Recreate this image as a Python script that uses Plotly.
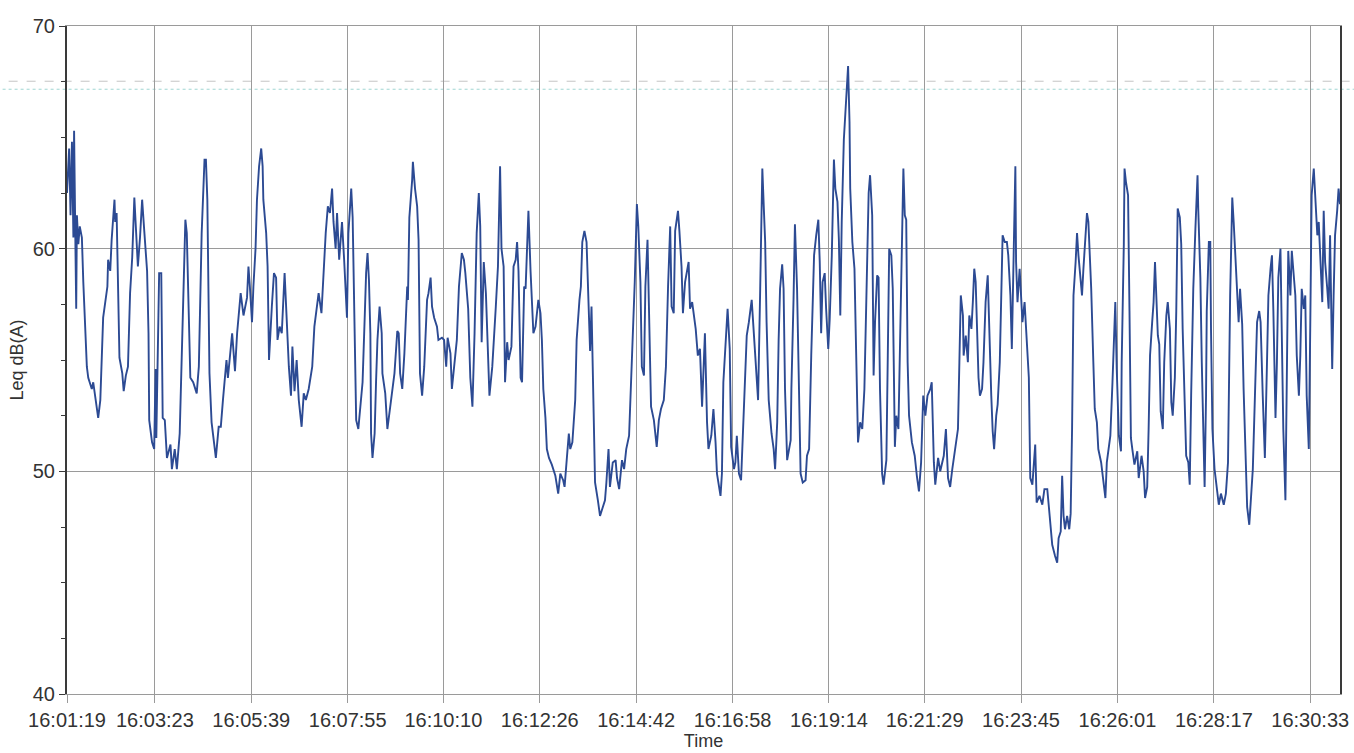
import pandas as pd
import plotly.graph_objects as go

# ---------------- data ----------------
start_time = "16:01:19"
end_time = "16:31:15"
tick_labels = ["16:01:19", "16:03:23", "16:05:39", "16:07:55", "16:10:10", "16:12:26",
               "16:14:42", "16:16:58", "16:19:14", "16:21:29", "16:23:45", "16:26:01",
               "16:28:17", "16:30:33"]

# seconds elapsed since 16:01:19
t_sec = [0, 3, 5, 7, 9, 10, 12, 13, 14, 16, 18, 21, 23, 28, 30, 35, 37, 40, 44, 47, 49, 51, 57, 58,
         61, 63, 67, 68, 70, 73, 74, 78, 80, 83, 86, 89, 92, 95, 98, 100, 103, 106, 109, 113, 115,
         116, 120, 123, 125, 126, 129, 130, 133, 134, 135, 138, 141, 146, 148, 152, 155, 159, 161,
         164, 167, 169, 171, 174, 178, 183, 186, 188, 190, 194, 196, 198, 199, 201, 204, 206, 210,
         214, 217, 220, 225, 227, 233, 237, 240, 245, 249, 254, 256, 258, 261, 263, 266, 268, 271,
         274, 276, 277, 281, 283, 285,
         289, 292, 295, 297, 300, 303, 307, 310, 313, 316, 318, 321, 324, 327, 331, 334, 337, 341,
         346, 349, 353, 355, 359, 362, 365, 368, 371, 374, 376, 379, 381, 384, 388, 391, 395, 397,
         401, 403, 406, 408, 411, 414, 417, 420, 422, 424, 426, 428, 429, 431, 434, 436, 438, 441,
         444, 445, 449, 452, 455, 458, 462, 466, 468, 470, 473, 476, 480, 481, 483, 487, 488, 491,
         494, 496, 498, 501, 504, 508, 510, 513, 515, 518, 522, 524, 529, 532, 535, 537, 541, 543,
         546, 550, 553, 557, 560, 562, 566, 569, 572, 575, 578, 581, 583, 585,
         588, 591, 596, 600, 605, 608, 611, 613, 616, 618, 621, 623, 627, 630, 633, 635, 637, 640,
         642, 645, 647, 649, 651, 654, 656, 658, 661, 665, 668, 670, 672, 675, 677, 680, 684, 689,
         693, 696, 700, 702, 705, 708, 710, 713, 717, 719, 723, 725, 727, 730, 733, 736, 738, 740,
         743, 745, 749, 752, 755, 759, 761, 764, 766, 770, 774, 776, 779, 783, 786, 789, 793, 795,
         797, 801, 804, 806, 809, 811, 814, 816, 819, 821, 824, 828, 832, 835, 838, 842, 845, 848,
         851, 853, 856, 858, 862, 864, 867, 869, 872, 877, 879, 882, 887, 890, 893, 896, 898, 900,
         903, 905, 909, 912, 915, 917, 922, 924, 926, 929, 932, 935, 937, 941, 943, 945, 948, 951,
         953, 956, 959, 962, 966, 968, 971, 973, 975, 978, 981, 983, 985, 987, 990, 994, 997, 999,
         1002, 1004, 1006, 1009, 1011, 1013, 1016, 1021, 1022, 1025, 1027, 1030, 1032, 1035, 1038,
         1042, 1044, 1047, 1050, 1054, 1057, 1060, 1062, 1064, 1066, 1069, 1071, 1074, 1076, 1079,
         1082, 1084, 1087, 1089, 1091, 1093, 1096, 1099, 1102, 1104, 1105, 1108, 1111, 1113, 1116,
         1119, 1122, 1125, 1129, 1131, 1133, 1136, 1138, 1140, 1143, 1145, 1147, 1150, 1152, 1156,
         1158, 1160, 1163, 1165, 1168, 1170, 1173, 1175, 1178, 1180, 1182, 1184, 1186, 1188, 1192,
         1196, 1199, 1202, 1205, 1208, 1211, 1214, 1218, 1220, 1223, 1225, 1229, 1232, 1237, 1240,
         1243, 1246, 1249, 1253, 1257, 1259, 1261, 1264, 1265, 1268, 1271, 1273, 1276, 1278, 1280,
         1282, 1284, 1286, 1288, 1291, 1293, 1296, 1299, 1301, 1304, 1306, 1308, 1311, 1313, 1316,
         1318, 1320, 1323, 1326, 1328, 1331, 1333, 1335, 1338, 1339, 1341, 1344, 1346, 1348, 1351,
         1354, 1357, 1359, 1362, 1366, 1368, 1372, 1376, 1379, 1383, 1385, 1387, 1390, 1394, 1397,
         1399, 1402, 1404, 1406, 1408, 1411, 1414, 1416, 1418, 1420, 1423, 1425, 1427, 1430, 1432,
         1434, 1437, 1439, 1441, 1445, 1448, 1450, 1453, 1455, 1459, 1462, 1465, 1467, 1469, 1472,
         1475, 1479, 1481, 1484, 1487, 1488, 1491, 1492, 1494, 1497, 1499, 1501, 1503, 1506, 1510,
         1512, 1516, 1519, 1521, 1524, 1526, 1528, 1531, 1533, 1535, 1537, 1539, 1541, 1543, 1546,
         1548, 1551, 1553, 1556, 1558, 1560, 1563, 1565, 1567, 1570, 1572, 1574, 1577, 1579, 1582,
         1584, 1586, 1589, 1592, 1595, 1596, 1599, 1601, 1604, 1605, 1607, 1608, 1611, 1613, 1614,
         1616, 1619, 1622, 1625, 1628, 1632, 1635, 1638, 1641, 1644, 1646, 1648, 1651, 1653, 1655,
         1658, 1660, 1662, 1665, 1668, 1671, 1673, 1676, 1679, 1682, 1684, 1687, 1690, 1693, 1695,
         1698, 1700, 1702, 1705, 1707, 1709, 1712, 1714, 1716, 1719, 1721, 1723, 1726, 1728, 1730,
         1733, 1735, 1738, 1740, 1742, 1745, 1747, 1749, 1752, 1754, 1756, 1759, 1761, 1764, 1766,
         1768, 1771, 1773, 1775, 1778, 1780, 1782, 1785, 1787, 1789, 1792, 1794, 1796]

# Leq dB(A)
leq_dba = [62.5, 64.5, 61.5, 64.8, 60.5, 65.3, 59.8, 57.3, 61.5, 60.2, 61.0, 60.5, 58.5, 54.7, 54.2,
           53.7, 54.0, 53.2, 52.4, 53.2, 54.7, 56.9, 58.3, 59.5, 59.0, 60.4, 62.2, 61.2, 61.6, 57.7,
           55.1, 54.4, 53.6, 54.3, 54.7, 58.0, 59.6, 62.3, 60.1, 59.2, 60.5, 62.2, 60.8, 59.0, 56.2,
           52.3, 51.3, 51.0, 54.6, 51.5, 57.0, 58.9, 58.9, 56.7, 52.4, 52.3, 50.6, 51.2, 50.1, 51.0,
           50.1, 51.7, 54.2, 57.7, 61.3, 60.7, 57.7, 54.2, 54.0, 53.5, 54.7, 58.3, 60.7, 64.0, 64.0,
           62.2, 59.2, 54.4, 52.2, 51.7, 50.6, 52.0, 52.0, 53.2, 55.0, 54.2, 56.2, 54.5, 56.2, 58.0,
           57.0, 57.8, 59.2, 58.3, 56.7, 58.3, 60.0, 62.2, 63.7, 64.5, 63.7, 62.2, 60.7, 59.2, 55.0,
           57.4, 58.9, 58.7, 55.9, 56.5, 56.2, 58.9, 56.5, 54.7, 53.4, 55.6, 53.6, 55.0, 53.2, 52.0,
           53.5, 53.2, 53.7, 54.7, 56.5, 57.4, 58.0, 57.1, 59.2, 60.7, 61.9, 61.6, 62.7, 61.2, 60.0,
           61.6, 59.5, 61.2, 59.5, 56.9, 60.7, 62.7, 61.4, 56.2, 52.3, 51.9, 52.9, 54.0, 56.9, 58.9,
           59.8, 58.6, 56.2, 51.7, 50.6, 51.7, 54.0, 55.9, 57.4, 56.2, 54.4, 53.5, 51.9, 52.6, 53.5,
           54.4, 56.3, 56.2, 54.4, 53.7, 55.3, 58.3, 57.7, 61.4, 63.1, 63.9, 62.7, 61.9, 60.4, 54.4,
           53.4, 54.7, 57.7, 58.0, 58.7, 57.4, 56.9, 56.5, 55.9, 56.0, 55.9, 54.7, 56.0, 55.3, 53.7,
           54.7, 55.9, 58.3, 59.8, 59.5, 58.9, 57.3, 54.2, 52.9, 56.2, 60.7, 62.5, 61.0, 55.8,
           59.4, 58.0, 53.4, 54.7, 57.4, 59.2, 63.7, 60.0, 59.2, 54.0, 55.8, 55.0, 55.6, 59.2, 59.5,
           60.3, 59.0, 54.2, 54.0, 58.3, 58.2, 60.1, 61.7, 59.0, 57.7, 56.2, 56.5, 57.7, 57.1, 55.9,
           53.7, 52.4, 51.0, 50.6, 50.3, 49.8, 49.0, 49.9, 49.6, 49.3, 50.5, 51.7, 51.0, 51.3, 53.2,
           55.9, 57.7, 58.3, 60.3, 60.8, 60.3, 57.4, 55.4, 57.4, 53.2, 49.5, 48.7, 48.0, 48.3, 48.7,
           49.5, 51.0, 49.3, 50.4, 50.5, 49.7, 49.2, 50.5, 50.1, 51.0, 51.6, 53.2, 54.7, 58.5, 62.0,
           61.0, 58.5, 54.7, 54.3, 58.3, 60.4, 57.7, 52.9, 52.3, 51.1, 52.3, 52.8, 53.2, 54.7, 58.3,
           61.0, 57.4, 57.1, 60.8, 61.7, 60.8, 59.2, 57.1, 58.5, 59.4, 57.3, 57.6, 56.4, 55.2, 55.5,
           52.9, 54.5, 56.2, 52.2, 51.0, 51.6, 52.8, 51.3, 49.9, 48.9, 49.9, 54.0, 55.5, 57.3, 55.5,
           51.1, 50.1, 50.4, 51.6, 49.9, 49.6, 51.1, 53.1, 56.1, 56.7, 57.7, 56.7, 55.2, 53.7, 53.2,
           58.2, 63.6, 61.9, 60.3, 56.7, 53.2, 51.7, 51.0, 50.1, 52.2, 55.9, 58.2, 59.3, 58.2, 53.7,
           50.5, 51.4, 53.7, 57.7, 61.1, 58.2, 55.2, 49.9, 49.5, 49.6, 50.7, 51.0, 55.2, 59.7, 60.6,
           61.3, 59.4, 56.2, 58.5, 58.9, 57.3, 55.5, 56.8, 59.7, 64.0, 62.7, 62.1, 60.4, 57.0, 61.2,
           64.9, 66.7, 68.2, 65.7, 62.7, 60.3, 59.1, 55.9, 51.3, 52.2, 51.9, 53.7, 59.7, 62.5, 63.3,
           61.5, 54.3, 56.7, 58.8, 58.7, 53.7, 49.9, 49.4, 50.5, 55.2, 60.0, 59.7, 58.2, 51.1, 52.5,
           51.9, 55.2, 59.4, 63.6, 61.5, 61.3, 54.9, 52.5, 51.3, 50.7, 49.8, 49.1, 50.4, 53.4, 52.5,
           53.4, 53.7, 54.0, 50.4, 49.4, 50.6, 50.0, 50.7, 51.9, 49.7, 49.3, 50.1, 50.9, 51.9, 54.9,
           57.9, 57.0, 55.2, 56.1, 54.9, 57.0, 56.4, 57.6, 59.1, 58.5, 56.4, 54.2, 53.4, 53.7, 54.9,
           57.6, 58.8, 56.4, 53.4, 51.8, 51.0, 52.5, 53.0, 54.9, 57.3, 60.6, 60.3, 60.3, 59.7, 57.9,
           55.5, 58.5, 63.7, 59.4, 57.6, 59.1, 57.9, 56.7, 57.6, 56.0, 54.2, 49.7, 49.4, 51.2, 48.6,
           48.9, 48.5, 49.2, 49.2, 48.5, 47.7, 46.7, 46.2, 45.9, 47.0, 47.3, 49.8, 48.0, 47.4, 48.0,
           47.4, 48.1, 51.9, 57.9, 59.4, 60.7, 59.7, 58.8, 57.9, 59.1, 60.4, 61.6, 61.2, 58.2, 54.9,
           52.8, 52.2, 51.0, 50.4, 49.7, 48.8, 50.4, 51.0, 51.6,
           54.0, 57.6, 54.6, 51.6, 50.9, 54.9, 60.2, 63.6, 63.0, 62.4, 57.2, 51.5, 51.0, 50.3, 50.9,
           49.7, 50.7, 50.0, 48.8, 49.3, 51.9, 55.2, 56.7, 57.6, 59.4, 57.6, 56.1, 55.7, 52.7, 51.9,
           54.9, 57.0, 57.6, 56.4, 53.1, 52.5, 54.2, 57.2, 61.8, 61.4, 60.2, 56.4, 52.5, 50.7, 50.4,
           49.4, 53.4, 58.2, 60.9, 63.3, 61.8, 58.7, 54.9, 51.2, 49.3, 53.4, 57.2, 60.3, 60.3, 56.4,
           51.9, 50.1, 49.4, 48.5, 49.0, 48.5, 49.0, 50.4, 57.9, 62.3, 61.2, 60.0, 57.6, 56.7, 58.2,
           56.6, 53.7, 51.2, 48.4, 47.6, 49.0, 50.1, 53.4, 56.7, 57.2, 56.7, 53.4, 50.6, 54.9, 57.9,
           59.1, 59.7, 57.2, 52.4, 54.9, 58.7, 60.0, 56.4, 51.9, 48.7, 53.4, 59.9, 57.9, 59.9, 59.1,
           57.9, 55.2, 53.4, 55.2, 58.2, 57.3, 57.9, 53.4, 51.0, 56.4, 62.4, 63.6, 62.4, 60.6, 61.2,
           59.4, 57.6, 61.7, 59.4, 58.2, 57.3, 60.6, 54.6, 57.9, 60.6, 61.7, 62.7, 62.0]

# ---------------- style ----------------
LINE_COLOR = "#2c4a93"
GRID_COLOR = "#9a9a9a"
AXIS_COLOR = "#3a3a3a"
TEXT_COLOR = "#333333"
FONT = "Liberation Sans, Arial, sans-serif"
SCAN_LINES = [(67.52, "#c4c4c4", "dash"), (67.16, "#9fd6d2", "dot")]

day = "2000-01-01 "
t0 = pd.Timestamp(day + start_time)
x_time = t0 + pd.to_timedelta(t_sec, unit="s")
tick_vals = [pd.Timestamp(day + lbl) for lbl in tick_labels]

fig = go.Figure()
fig.add_trace(go.Scatter(
    x=x_time, y=leq_dba, mode="lines",
    line=dict(color=LINE_COLOR, width=1.9),
    showlegend=False, hoverinfo="x+y",
))

for yv, col, dash in SCAN_LINES:
    fig.add_shape(type="line", xref="paper", yref="y", x0=-0.06, x1=1.02, y0=yv, y1=yv,
                  line=dict(color=col, width=1, dash=dash), layer="below")

fig.update_layout(
    width=1354, height=753,
    margin=dict(l=67, r=14, t=26, b=59),
    paper_bgcolor="white", plot_bgcolor="white",
    font=dict(family=FONT, color=TEXT_COLOR, size=20),
)
fig.update_xaxes(
    type="date", automargin=False,
    range=[t0, pd.Timestamp(day + end_time)],
    tickvals=tick_vals, ticktext=tick_labels,
    showgrid=True, gridcolor=GRID_COLOR, gridwidth=1,
    ticks="outside", ticklen=8, tickcolor=GRID_COLOR,
    showline=True, linecolor=GRID_COLOR, linewidth=1, mirror=True,
    tickfont=dict(size=20, color=TEXT_COLOR),
    title=dict(text="Time", font=dict(size=18, color=TEXT_COLOR), standoff=4),
    zeroline=False,
)
fig.update_yaxes(
    automargin=False,
    range=[40, 70],
    tickvals=[40, 50, 60, 70],
    showgrid=True, gridcolor=GRID_COLOR, gridwidth=1,
    ticks="outside", ticklen=6, tickcolor=AXIS_COLOR,
    minor=dict(dtick=2.5, ticks="outside", ticklen=4, tickcolor=AXIS_COLOR, showgrid=False),
    showline=True, linecolor=AXIS_COLOR, linewidth=2, mirror=True,
    tickfont=dict(size=20, color=TEXT_COLOR),
    title=dict(text="Leq dB(A)", font=dict(size=18, color=TEXT_COLOR), standoff=4),
    zeroline=False,
)

fig.write_html(
    "out.html",
    config={"displayModeBar": False},
    post_script="document.body.style.margin='0';document.body.style.overflow='hidden';",
)
